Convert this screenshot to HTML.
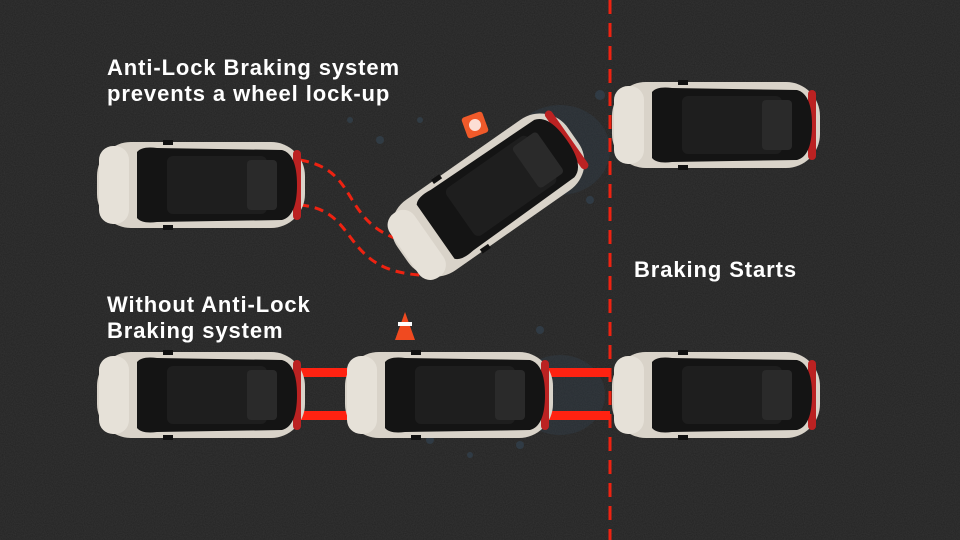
<!DOCTYPE html>
<html><head><meta charset="utf-8"><style>
html,body{margin:0;padding:0;background:#232323;}
svg{display:block}
text{font-family:"Liberation Sans",sans-serif;font-weight:bold;fill:#fff;font-size:22px;letter-spacing:0.9px}
</style></head><body>
<svg width="960" height="540" viewBox="0 0 960 540" xmlns="http://www.w3.org/2000/svg">
<defs>
<filter id="n" x="0" y="0" width="100%" height="100%">
<feTurbulence type="fractalNoise" baseFrequency="0.9" numOctaves="2" seed="3"/>
<feColorMatrix values="0 0 0 0 0.2  0 0 0 0 0.2  0 0 0 0 0.2  0 0 0 0.2 0"/>
</filter>
<g id="car">
<rect x="0" y="2" width="208" height="86" rx="34" fill="#d9d3c9"/>
<rect x="2" y="6" width="30" height="78" rx="14" fill="#e6e1d8"/>
<rect x="196" y="10" width="8" height="70" rx="4" fill="#b22"/>
<path d="M40 12 Q45 6 60 8 L185 10 Q200 14 200 45 Q200 76 185 80 L60 82 Q45 84 40 78 Z" fill="#141414"/>
<rect x="70" y="16" width="100" height="58" rx="6" fill="#1e1e1e"/>
<rect x="150" y="20" width="30" height="50" rx="4" fill="#2a2a2a"/>
<rect x="66" y="0" width="10" height="5" fill="#111"/>
<rect x="66" y="85" width="10" height="5" fill="#111"/>
</g>
</defs>
<rect width="960" height="540" fill="#232323"/>
<rect width="960" height="540" filter="url(#n)"/>
<g fill="#34485a" opacity="0.55">
<ellipse cx="560" cy="150" rx="50" ry="45" opacity="0.5"/>
<ellipse cx="560" cy="395" rx="45" ry="40" opacity="0.5"/>
<circle cx="380" cy="140" r="4"/><circle cx="420" cy="120" r="3"/><circle cx="600" cy="95" r="5"/>
<circle cx="430" cy="440" r="4"/><circle cx="470" cy="455" r="3"/><circle cx="540" cy="330" r="4"/>
<circle cx="350" cy="120" r="3"/><circle cx="590" cy="200" r="4"/><circle cx="520" cy="445" r="4"/>
</g>
<line x1="610" y1="0" x2="610" y2="540" stroke="#e21" stroke-width="3" stroke-dasharray="14 9"/>
<path d="M300 160 C360 170 340 220 400 240" fill="none" stroke="#e21" stroke-width="3" stroke-dasharray="9 6"/>
<path d="M300 205 C360 210 340 270 420 275" fill="none" stroke="#e21" stroke-width="3" stroke-dasharray="9 6"/>
<rect x="300" y="368" width="310" height="9" fill="#f21"/>
<rect x="300" y="411" width="310" height="9" fill="#f21"/>
<use href="#car" transform="translate(97,140)"/>
<use href="#car" transform="translate(612,80)"/>
<use href="#car" transform="translate(488,195) rotate(-35) translate(-104,-45)"/>
<use href="#car" transform="translate(97,350)"/>
<use href="#car" transform="translate(345,350)"/>
<use href="#car" transform="translate(612,350)"/>
<g transform="translate(475,125) rotate(-20)"><rect x="-11" y="-11" width="22" height="22" rx="3" fill="#f05a2a"/><circle r="6" fill="#fff" opacity="0.8"/></g>
<polygon points="405,312 395,340 415,340" fill="#f04a20"/>
<rect x="398" y="322" width="14" height="4" fill="#fff"/>
<text x="107" y="75">Anti-Lock Braking system</text>
<text x="107" y="101">prevents a wheel lock-up</text>
<text x="634" y="277">Braking Starts</text>
<text x="107" y="312">Without Anti-Lock</text>
<text x="107" y="338">Braking system</text>
</svg>
</body></html>
